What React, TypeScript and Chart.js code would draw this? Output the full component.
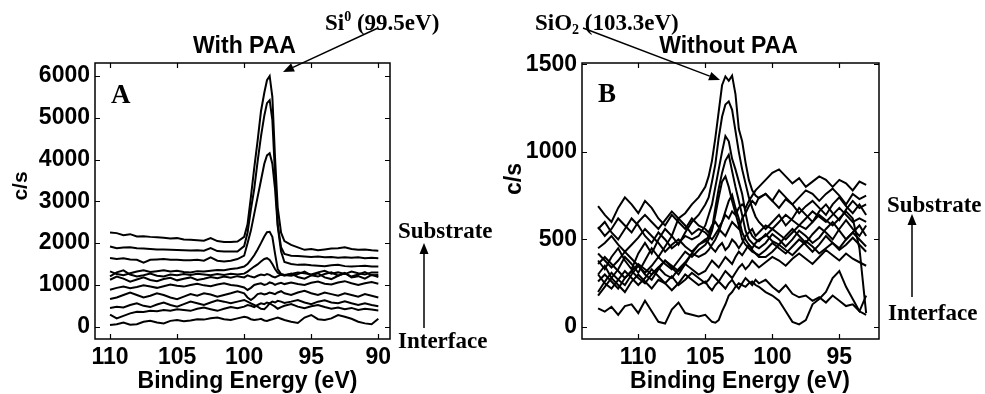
import React, { useEffect, useRef } from "react";
import { Chart, registerables } from "chart.js";
Chart.register(...registerables);

// ---------- Panel A: With PAA ----------
const energiesA = [110,109.5,109,108.5,108,107.5,107,106.5,106,105.5,105,104.5,104,103.5,103,102.5,102,101.5,101,100.5,100,
  99.75,99.5,99.25,99,98.75,98.5,98.3,98.1,97.9,97.7,97.5,97.25,97,
  96.5,96,95.5,95,94.5,94,93.5,93,92.5,92,91.5,91,90.5,90];

const withPAA1 = [2257,2240,2190,2215,2160,2165,2150,2140,2130,2110,2120,2090,2080,2070,2060,2120,2050,2030,2025,2040,2150,
  2450,3100,3800,4450,5150,5600,5900,6000,5500,4050,2850,2250,2050,
  1960,1900,1840,1860,1830,1850,1870,1880,1900,1860,1840,1850,1830,1820];
const withPAA2 = [1920,1880,1895,1900,1880,1870,1860,1850,1845,1840,1835,1830,1825,1830,1820,1880,1810,1800,1800,1800,1930,
  2250,2800,3300,3950,4550,5050,5350,5420,4950,3650,2450,1900,1740,
  1700,1690,1680,1670,1680,1660,1670,1650,1660,1650,1660,1640,1650,1640];
const withPAA3 = [1643,1620,1640,1610,1600,1530,1600,1610,1620,1600,1605,1590,1590,1600,1580,1660,1580,1560,1580,1620,1700,
  2000,2300,2700,3100,3500,3900,4100,4150,3900,3300,2400,1800,1550,
  1500,1480,1490,1470,1460,1450,1470,1480,1450,1440,1450,1460,1440,1440];
const withPAA4 = [1324,1260,1230,1280,1320,1350,1310,1330,1350,1320,1340,1310,1300,1330,1320,1340,1360,1350,1380,1400,1440,
  1500,1600,1710,1850,2000,2160,2260,2270,2150,1750,1380,1260,1240,
  1260,1300,1280,1250,1300,1340,1270,1300,1260,1320,1280,1250,1300,1300];
const withPAA5 = [1204,1300,1350,1250,1200,1230,1270,1220,1200,1250,1230,1260,1240,1270,1250,1230,1260,1240,1270,1250,1270,
  1320,1380,1440,1490,1560,1620,1640,1600,1500,1380,1290,1250,1240,
  1220,1260,1320,1230,1200,1260,1300,1220,1280,1200,1250,1310,1230,1240];
const withPAA6 = [1124,1200,1150,1080,1130,1180,1120,1090,1140,1170,1110,1150,1180,1120,1150,1190,1160,1200,1170,1210,1180,
  1230,1200,1180,1220,1250,1230,1260,1240,1200,1180,1210,1250,1220,
  1270,1190,1150,1230,1280,1180,1140,1220,1290,1180,1210,1150,1240,1190];
const withPAA7 = [885,930,960,920,950,990,960,930,970,1010,980,960,1000,1030,990,970,1010,1040,1000,980,940,
  880,930,1000,1020,1040,1000,1020,1060,1040,1000,1030,1050,1020,
  1060,1020,1000,1050,1080,1030,1010,1060,1090,1040,1000,1040,1070,1030];
const withPAA8 = [662,700,760,820,760,700,740,800,760,700,660,720,780,740,800,770,720,760,800,850,800,
  700,640,700,780,800,770,790,820,800,780,820,850,800,
  760,820,860,800,760,820,780,740,800,760,720,780,740,700];
const withPAA9 = [447,480,460,520,560,500,470,530,580,520,480,540,600,560,520,580,630,600,560,600,640,
  600,560,520,480,430,420,480,560,600,580,620,600,570,
  600,640,580,540,600,630,580,560,610,560,520,560,520,490];
const withPAA10 = [287,200,260,320,360,350,380,370,400,380,420,400,380,430,460,420,380,430,470,440,480,
  520,500,470,520,560,540,580,560,520,480,430,470,500,
  540,480,440,490,520,470,430,460,420,450,400,430,410,390];
const withPAA11 = [40,60,100,50,60,120,140,100,80,140,160,130,150,180,170,200,220,180,160,200,240,
  220,180,160,170,190,150,140,160,180,200,220,190,160,
  120,90,220,280,180,160,200,280,240,190,120,80,60,190];

const spectraA = [withPAA1, withPAA2, withPAA3, withPAA4, withPAA5, withPAA6, withPAA7, withPAA8, withPAA9, withPAA10, withPAA11];
const xTicksA = [90, 95, 100, 105, 110];
const yTicksA = [0, 1000, 2000, 3000, 4000, 5000, 6000];

// ---------- Panel B: Without PAA ----------
const energiesB = [113,112.5,112,111.5,111,110.5,110,109.5,109,108.5,108,107.5,107,106.5,106,105.5,
  105,104.75,104.5,104.25,104,103.75,103.5,103.25,103,102.75,102.5,102.25,102,101.75,101.5,101.25,101,
  100.5,100,99.5,99,98.5,98,97.5,97,96.5,96,95.5,95,94.5,94,93.5,93];

const noPAA1 = [380,330,400,450,380,330,420,480,420,500,560,520,620,650,700,740,
  800,860,950,1080,1230,1380,1430,1405,1435,1330,1130,1060,940,840,780,750,735,
  760,720,680,730,700,650,690,720,680,640,700,740,690,650,700,640];
const noPAA2 = [300,350,280,330,400,360,310,380,450,400,460,520,470,540,600,640,
  700,740,830,930,1080,1200,1270,1288,1240,1120,1000,900,820,740,680,630,600,
  560,600,640,580,620,680,640,600,660,700,650,610,670,720,680,700];
const noPAA3 = [560,600,540,500,560,620,580,520,480,540,500,450,480,520,500,520,
  580,640,700,800,900,1000,1090,1060,960,900,830,760,650,560,520,500,490,
  530,490,470,520,560,520,480,530,570,540,500,560,610,560,520,580];
const noPAA4 = [200,260,310,270,240,300,350,300,270,330,380,340,300,360,420,470,
  490,520,560,680,790,880,950,983,890,800,720,640,550,500,480,460,450,
  480,530,500,460,500,550,520,480,510,560,600,550,500,540,580,520];
const noPAA5 = [420,380,340,380,430,390,350,310,350,400,360,330,380,430,400,440,
  470,500,550,640,740,830,860,800,720,650,580,500,470,450,430,420,410,
  440,480,450,420,460,500,470,430,470,520,480,450,500,540,500,460];
const noPAA6 = [260,300,260,220,280,320,280,250,300,340,300,280,330,370,420,400,
  420,440,470,500,540,600,660,720,754,680,620,540,500,470,440,420,400,
  400,430,470,440,410,450,490,460,420,450,480,440,470,510,470,430];
const noPAA7 = [690,640,600,680,740,700,650,720,680,620,580,640,600,560,620,580,
  560,540,580,600,570,600,640,620,660,640,680,700,680,720,750,780,800,
  840,880,900,860,820,850,800,830,860,840,800,840,820,780,830,811];
const noPAA8 = [570,520,560,620,580,540,600,640,600,560,610,660,620,580,530,560,
  540,520,500,530,560,540,520,560,600,580,560,620,650,690,720,700,740,
  760,720,780,740,700,740,780,760,720,760,790,750,700,760,730,750];
const noPAA9 = [450,480,520,470,430,470,510,560,520,480,430,470,500,460,430,470,
  500,480,450,430,460,480,440,460,500,480,450,480,520,540,560,520,540,
  580,560,600,640,610,580,620,660,630,600,640,680,640,600,620,600];
const noPAA10 = [360,400,360,320,280,320,360,330,300,340,380,350,320,360,330,300,
  320,350,380,360,340,370,400,380,360,400,430,410,440,470,450,480,500,
  520,560,530,500,540,580,560,600,640,610,580,620,660,620,450,80];
const noPAA11 = [300,250,220,270,320,280,240,280,330,290,250,290,240,270,310,280,
  250,270,300,280,260,290,320,300,280,310,340,360,330,350,380,360,340,
  370,400,380,350,390,420,390,360,400,440,410,380,420,390,370,350];
const noPAA12 = [180,230,280,240,200,260,300,260,220,270,250,210,250,300,270,240,
  260,230,210,240,260,240,220,250,270,240,220,250,280,260,240,270,250,
  270,230,200,240,190,170,180,150,170,140,180,150,120,130,90,180];
const noPAA13 = [107,88,116,70,120,130,80,150,90,30,20,100,140,80,70,60,
  70,50,30,25,40,90,130,180,200,230,250,240,230,250,260,240,230,
  200,180,150,90,30,15,40,130,160,200,280,320,230,160,90,70];

const spectraB = [noPAA1, noPAA2, noPAA3, noPAA4, noPAA5, noPAA6, noPAA7, noPAA8, noPAA9, noPAA10, noPAA11, noPAA12, noPAA13];
const xTicksB = [95, 100, 105, 110];
const yTicksB = [0, 500, 1000, 1500];

const SANS = "'Liberation Sans', Arial, sans-serif";
const SERIF = "'Liberation Serif', 'Times New Roman', serif";

type TextItem = { kind: "text"; text: string; x: number; y: number; font: string; align?: CanvasTextAlign; baseline?: CanvasTextBaseline; rotate?: boolean };
type RichItem = { kind: "rich"; x: number; y: number; parts: { text: string; size: number; dy: number }[] };
type ArrowItem = { kind: "arrow"; x1: number; y1: number; x2: number; y2: number };
type Item = TextItem | RichItem | ArrowItem;

function drawArrow(ctx: CanvasRenderingContext2D, x1: number, y1: number, x2: number, y2: number) {
  const ang = Math.atan2(y2 - y1, x2 - x1);
  const hl = 11, hw = 4.5;
  const bx = x2 - hl * Math.cos(ang), by = y2 - hl * Math.sin(ang);
  ctx.save();
  ctx.strokeStyle = "#000";
  ctx.fillStyle = "#000";
  ctx.lineWidth = 1.5;
  ctx.beginPath();
  ctx.moveTo(x1, y1);
  ctx.lineTo(bx, by);
  ctx.stroke();
  ctx.beginPath();
  ctx.moveTo(x2, y2);
  ctx.lineTo(bx + hw * Math.sin(ang), by - hw * Math.cos(ang));
  ctx.lineTo(bx - hw * Math.sin(ang), by + hw * Math.cos(ang));
  ctx.closePath();
  ctx.fill();
  ctx.restore();
}

function makeDecor(items: Item[], xTicks: number[], yTicks: number[]) {
  return {
    id: "decor",
    afterDraw(chart: any) {
      const ctx: CanvasRenderingContext2D = chart.ctx;
      const { left, right, top, bottom } = chart.chartArea;
      const xs = chart.scales.x, ys = chart.scales.y;
      ctx.save();
      ctx.strokeStyle = "#000";
      ctx.lineWidth = 1.5;
      ctx.strokeRect(left, top, right - left, bottom - top);
      ctx.lineWidth = 1.2;
      ctx.beginPath();
      const tl = 5;
      xTicks.forEach((v) => {
        const p = Math.round(xs.getPixelForValue(v)) + 0.5;
        ctx.moveTo(p, bottom); ctx.lineTo(p, bottom - tl);
        ctx.moveTo(p, top); ctx.lineTo(p, top + tl);
      });
      yTicks.forEach((v) => {
        const p = Math.round(ys.getPixelForValue(v)) + 0.5;
        ctx.moveTo(left, p); ctx.lineTo(left + tl, p);
        ctx.moveTo(right, p); ctx.lineTo(right - tl, p);
      });
      ctx.stroke();
      ctx.fillStyle = "#000";
      items.forEach((it) => {
        if (it.kind === "arrow") {
          drawArrow(ctx, it.x1, it.y1, it.x2, it.y2);
        } else if (it.kind === "text") {
          ctx.save();
          ctx.font = it.font;
          ctx.textAlign = it.align || "left";
          ctx.textBaseline = it.baseline || "alphabetic";
          if (it.rotate) {
            ctx.translate(it.x, it.y);
            ctx.rotate(-Math.PI / 2);
            ctx.fillText(it.text, 0, 0);
          } else {
            ctx.fillText(it.text, it.x, it.y);
          }
          ctx.restore();
        } else {
          let x = it.x;
          ctx.save();
          ctx.textAlign = "left";
          ctx.textBaseline = "alphabetic";
          it.parts.forEach((p) => {
            ctx.font = `bold ${p.size}px ${SERIF}`;
            ctx.fillText(p.text, x, it.y + p.dy);
            x += ctx.measureText(p.text).width;
          });
          ctx.restore();
        }
      });
      ctx.restore();
    },
  };
}

function buildChart(canvas: HTMLCanvasElement, energies: number[], spectra: number[][], cfg: any) {
  const datasets = spectra.map((vals, i) => ({
    label: `s${i + 1}`,
    data: energies.map((e, j) => ({ x: e, y: vals[j] })),
    borderColor: "#000",
    borderWidth: 2,
    pointRadius: 0,
    fill: false,
    tension: 0,
  }));
  const tickFont = { family: SANS, size: 23, weight: "bold" as const };
  return new Chart(canvas, {
    type: "line",
    data: { datasets },
    plugins: [makeDecor(cfg.items, cfg.xTicks, cfg.yTicks)],
    options: {
      animation: false,
      responsive: false,
      devicePixelRatio: 1,
      layout: { padding: { left: 0, right: cfg.padRight, top: 63, bottom: 0 } },
      plugins: { legend: { display: false }, tooltip: { enabled: false }, title: { display: false } },
      scales: {
        x: {
          type: "linear",
          reverse: true,
          min: cfg.xMin,
          max: cfg.xMax,
          grid: { display: false, drawTicks: false },
          border: { display: false },
          ticks: { font: tickFont, color: "#000", padding: 5, maxRotation: 0, callback: (v: any) => String(v) },
          afterBuildTicks: (s: any) => { s.ticks = cfg.xTicks.map((v: number) => ({ value: v })); },
          afterFit: (s: any) => { s.height = 55; },
        },
        y: {
          type: "linear",
          min: cfg.yMin,
          max: cfg.yMax,
          grid: { display: false, drawTicks: false },
          border: { display: false },
          ticks: { font: tickFont, color: "#000", padding: 5, callback: (v: any) => String(v) },
          afterBuildTicks: (s: any) => { s.ticks = cfg.yTicks.map((v: number) => ({ value: v })); },
          afterFit: (s: any) => { s.width = cfg.yWidth; },
        },
      },
    } as any,
  });
}

const OFFB = 497;

const itemsA: Item[] = [
  { kind: "text", text: "With PAA", x: 244.5, y: 53, font: `bold 23px ${SANS}`, align: "center" },
  { kind: "rich", x: 325, y: 30, parts: [{ text: "Si", size: 23, dy: 0 }, { text: "0", size: 14, dy: -9 }, { text: " (99.5eV)", size: 23, dy: 0 }] },
  { kind: "arrow", x1: 378, y1: 28, x2: 283, y2: 72 },
  { kind: "text", text: "A", x: 111, y: 103, font: `bold 27px ${SERIF}` },
  { kind: "text", text: "c/s", x: 21, y: 186, font: `bold 21px ${SANS}`, align: "center", baseline: "middle", rotate: true },
  { kind: "text", text: "Binding Energy (eV)", x: 247.5, y: 382, font: `bold 23px ${SANS}`, align: "center", baseline: "middle" },
  { kind: "text", text: "Substrate", x: 398, y: 238, font: `bold 23px ${SERIF}` },
  { kind: "arrow", x1: 424, y1: 328, x2: 424, y2: 243 },
  { kind: "text", text: "Interface", x: 398, y: 348, font: `bold 23px ${SERIF}` },
];

const itemsB: Item[] = [
  { kind: "text", text: "Without PAA", x: 728.5 - OFFB, y: 53, font: `bold 23px ${SANS}`, align: "center" },
  { kind: "rich", x: 535 - OFFB, y: 30, parts: [{ text: "SiO", size: 23, dy: 0 }, { text: "2", size: 14, dy: 4 }, { text: " (103.3eV)", size: 23, dy: 0 }] },
  { kind: "arrow", x1: 583 - OFFB, y1: 28, x2: 720 - OFFB, y2: 80 },
  { kind: "text", text: "B", x: 598 - OFFB, y: 102, font: `bold 27px ${SERIF}` },
  { kind: "text", text: "c/s", x: 515 - OFFB, y: 179, font: `bold 23px ${SANS}`, align: "center", baseline: "middle", rotate: true },
  { kind: "text", text: "Binding Energy (eV)", x: 740 - OFFB, y: 382, font: `bold 23px ${SANS}`, align: "center", baseline: "middle" },
  { kind: "text", text: "Substrate", x: 887 - OFFB, y: 212, font: `bold 23px ${SERIF}` },
  { kind: "arrow", x1: 912 - OFFB, y1: 297, x2: 912 - OFFB, y2: 214 },
  { kind: "text", text: "Interface", x: 888 - OFFB, y: 320, font: `bold 23px ${SERIF}` },
];

export default function App() {
  const refA = useRef<HTMLCanvasElement>(null);
  const refB = useRef<HTMLCanvasElement>(null);
  useEffect(() => {
    const a = buildChart(refA.current!, energiesA, spectraA, {
      items: itemsA, xTicks: xTicksA, yTicks: yTicksA,
      xMin: 89.13, xMax: 111.12, yMin: -294, yMax: 6311, yWidth: 95, padRight: 107,
    });
    const b = buildChart(refB.current!, energiesB, spectraB, {
      items: itemsB, xTicks: xTicksB, yTicks: yTicksB,
      xMin: 92.04, xMax: 114.2, yMin: -68, yMax: 1507, yWidth: 85, padRight: 106,
    });
    return () => { a.destroy(); b.destroy(); };
  }, []);
  return (
    <div style={{ position: "absolute", left: 0, top: 0, width: 985, height: 394, background: "#fff", overflow: "hidden" }}>
      <canvas ref={refA} width={OFFB} height={394} style={{ position: "absolute", left: 0, top: 0, width: OFFB, height: 394 }} />
      <canvas ref={refB} width={985 - OFFB} height={394} style={{ position: "absolute", left: OFFB, top: 0, width: 985 - OFFB, height: 394 }} />
    </div>
  );
}
